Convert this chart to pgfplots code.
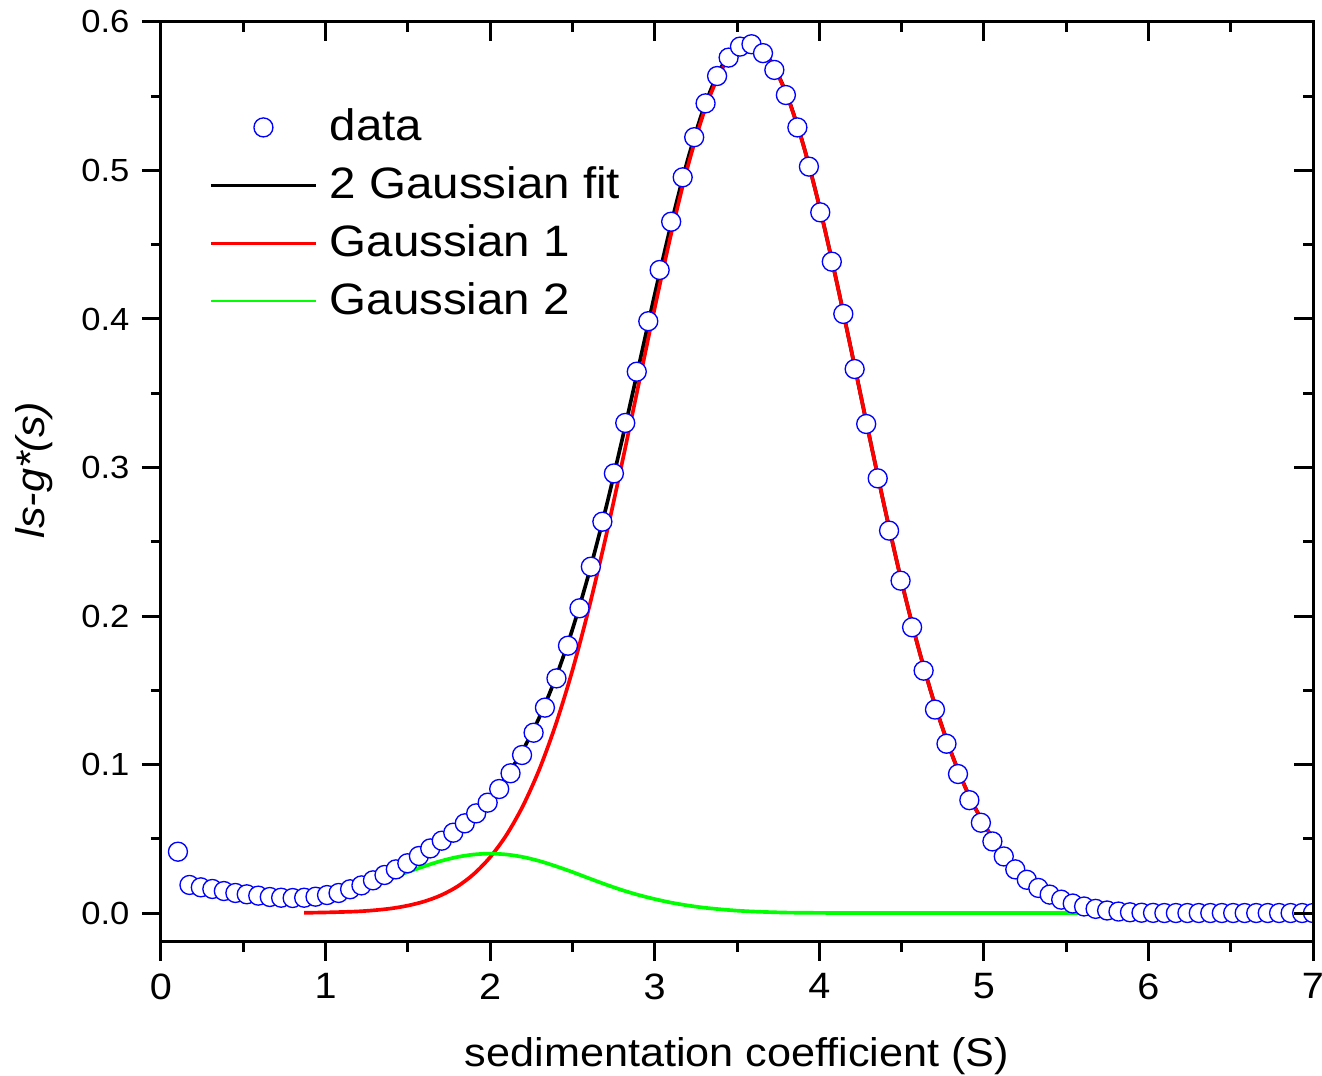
\documentclass[border=0pt]{standalone}
\usepackage{pgfplots}
\pgfplotsset{compat=1.18}
\usepackage{fontspec}
\setmainfont{Liberation Sans}[FakeStretch=1.08]

\begin{document}
\begin{tikzpicture}
\useasboundingbox (-48.3pt,-40.2pt) rectangle (348.3pt,282.6pt);
\begin{axis}[
  scale only axis, width=345.6pt, height=276pt,
  xmin=0, xmax=7, ymin=-0.0195, ymax=0.6,
  xtick={0,1,2,3,4,5,6,7},
  ytick={0,0.1,0.2,0.3,0.4,0.5,0.6},
  minor x tick num=1, minor y tick num=1,
  tick align=outside, xtick pos=left, ytick pos=left,
  major tick length=5.7pt, minor tick length=3pt,
  line width=0.9pt,
  tick style={black, line width=0.9pt},
  /pgf/number format/assume math mode=true,
  yticklabel style={/pgf/number format/fixed, /pgf/number format/fixed zerofill, /pgf/number format/precision=1, font=\fontsize{9.6}{11}\selectfont},
  xticklabel style={font=\fontsize{11}{13}\selectfont},
  xlabel={sedimentation coefficient (S)},
  ylabel={\itshape ls-g*(s)},
  xlabel style={at={(axis description cs:0.5,-0.1245)}, anchor=center, font=\fontsize{12}{14}\selectfont},
  ylabel style={at={(axis description cs:-0.1102,0.513)}, anchor=center, font=\fontsize{12}{14}\selectfont},
  clip marker paths=true,
  legend image code/.code={\draw[mark repeat=2,mark phase=2,#1] plot coordinates {(0pt,0pt) (15.75pt,0pt) (31.5pt,0pt)}; \path[draw=none,fill=none] (33.6pt,0pt);},
  legend style={draw=none, fill=none, at={(axis cs:0.225,0.5514)}, anchor=north west, font=\fontsize{13.2}{16}\selectfont, row sep=2.3pt},
  legend cell align=left,
]
\addlegendimage{only marks, mark=*, mark size=2.85pt, mark options={draw=blue, fill=white, line width=0.4pt}}
\addlegendentry{data}
\addlegendimage{black, line width=0.85pt}
\addlegendentry{2 Gaussian fit}
\addlegendimage{red, line width=0.85pt}
\addlegendentry{Gaussian 1}
\addlegendimage{green, line width=0.85pt}
\addlegendentry{Gaussian 2}

% 2 Gaussian fit
\addplot[black, line width=1.1pt, smooth, forget plot] coordinates {
(0.87,0.0062)(0.9,0.0068)(1.0,0.0094)(1.1,0.0127)(1.2,0.0166)(1.3,0.0212)(1.4,0.0265)(1.5,0.0325)
(1.6,0.0393)(1.7,0.0469)(1.8,0.0555)(1.9,0.0656)(2.0,0.0776)(2.1,0.0921)(2.2,0.1100)(2.3,0.1320)
(2.4,0.1589)(2.5,0.1910)(2.6,0.2286)(2.7,0.2711)(2.8,0.3178)(2.9,0.3668)(3.0,0.4165)(3.1,0.4640)
(3.2,0.5070)(3.3,0.5426)(3.4,0.5687)(3.5,0.5832)(3.6,0.5853)(3.7,0.5747)(3.8,0.5518)(3.9,0.5184)
(4.0,0.4762)(4.1,0.4279)(4.2,0.3760)(4.3,0.3232)(4.4,0.2716)(4.5,0.2232)(4.6,0.1795)(4.7,0.1411)
(4.8,0.1085)(4.9,0.0815)(5.0,0.0600)(5.1,0.0431)(5.2,0.0303)(5.3,0.0209)(5.4,0.0140)(5.5,0.0092)(5.58,0.0065)
};
% Gaussian 1
\addplot[red, line width=1.1pt, smooth, forget plot] coordinates {
(0.87,0.0002)(0.9,0.0002)(1.0,0.0004)(1.1,0.0007)(1.2,0.0011)(1.3,0.0019)(1.4,0.0031)(1.5,0.0050)
(1.6,0.0078)(1.7,0.0119)(1.8,0.0178)(1.9,0.0262)(2.0,0.0376)(2.1,0.0527)(2.2,0.0723)(2.3,0.0970)
(2.4,0.1274)(2.5,0.1634)(2.6,0.2052)(2.7,0.2518)(2.8,0.3023)(2.9,0.3548)(3.0,0.4074)(3.1,0.4574)
(3.2,0.5023)(3.3,0.5394)(3.4,0.5665)(3.5,0.5818)(3.6,0.5844)(3.7,0.5741)(3.8,0.5515)(3.9,0.5182)
(4.0,0.4761)(4.1,0.4278)(4.2,0.3760)(4.3,0.3232)(4.4,0.2716)(4.5,0.2232)(4.6,0.1795)(4.7,0.1411)
(4.8,0.1085)(4.9,0.0815)(5.0,0.0600)(5.1,0.0431)(5.2,0.0303)(5.3,0.0209)(5.4,0.0140)(5.5,0.0092)(5.58,0.0065)
};
% Gaussian 2
\addplot[green, line width=1.1pt, smooth, forget plot] coordinates {
(0.87,0.0060)(0.9,0.0066)(1.0,0.0091)(1.1,0.0120)(1.2,0.0155)(1.3,0.0193)(1.4,0.0234)(1.5,0.0276)
(1.6,0.0315)(1.7,0.0350)(1.8,0.0377)(1.9,0.0394)(2.0,0.0400)(2.1,0.0394)(2.2,0.0377)(2.3,0.0350)
(2.4,0.0315)(2.5,0.0276)(2.6,0.0234)(2.7,0.0193)(2.8,0.0155)(2.9,0.0122)(3.0,0.0094)(3.1,0.0070)
(3.2,0.0051)(3.3,0.0036)(3.4,0.0025)(3.5,0.0016)(3.6,0.0010)(3.7,0.0006)(3.8,0.0003)(3.9,0.0002)
(4.0,0.0001)(4.2,0.0000)(4.6,0.0000)(5.0,0.0000)(5.58,0.0000)
};
% data
\addplot[only marks, mark=*, mark size=2.85pt, mark options={draw=blue, fill=white, line width=0.4pt}, forget plot] coordinates {
(0.103,0.0413)(0.173,0.0189)(0.242,0.0173)(0.312,0.0162)(0.382,0.0148)(0.452,0.0135)(0.521,0.0126)(0.591,0.0117)
(0.661,0.0108)(0.730,0.0103)(0.800,0.0101)(0.870,0.0103)(0.939,0.0110)(1.009,0.0121)(1.079,0.0135)(1.149,0.0160)
(1.218,0.0186)(1.288,0.0220)(1.358,0.0256)(1.427,0.0294)(1.497,0.0335)(1.567,0.0384)(1.636,0.0435)(1.706,0.0487)
(1.776,0.0541)(1.846,0.0604)(1.915,0.0671)(1.985,0.0743)(2.055,0.0835)(2.124,0.0941)(2.194,0.1064)(2.264,0.1214)
(2.333,0.1383)(2.403,0.1580)(2.473,0.1800)(2.543,0.2052)(2.612,0.2332)(2.682,0.2635)(2.752,0.2960)(2.821,0.3300)
(2.891,0.3645)(2.961,0.3985)(3.030,0.4330)(3.100,0.4655)(3.170,0.4954)(3.240,0.5224)(3.309,0.5452)(3.379,0.5636)
(3.449,0.5760)(3.518,0.5834)(3.588,0.5850)(3.658,0.5790)(3.727,0.5677)(3.797,0.5508)(3.867,0.5290)(3.937,0.5026)
(4.006,0.4718)(4.076,0.4386)(4.146,0.4034)(4.215,0.3663)(4.285,0.3293)(4.355,0.2927)(4.424,0.2575)(4.494,0.2238)
(4.564,0.1924)(4.634,0.1632)(4.703,0.1370)(4.773,0.1140)(4.843,0.0936)(4.912,0.0760)(4.982,0.0608)(5.052,0.0482)
(5.121,0.0381)(5.191,0.0294)(5.261,0.0224)(5.331,0.0169)(5.400,0.0124)(5.470,0.0090)(5.540,0.0064)(5.609,0.0044)
(5.679,0.0028)(5.749,0.0017)(5.818,0.0010)(5.888,0.0005)(5.958,0.0002)(6.028,0.0001)(6.097,0.0000)(6.167,0.0000)
(6.237,0.0000)(6.306,0.0000)(6.376,0.0000)(6.446,0.0000)(6.515,0.0000)(6.585,0.0000)(6.655,0.0000)(6.725,0.0000)
(6.794,0.0000)(6.864,0.0000)(6.934,0.0000)(7.000,0.0000)
};
\end{axis}
\begin{axis}[
  scale only axis, width=345.6pt, height=276pt,
  xmin=0, xmax=7, ymin=-0.0195, ymax=0.6,
  xtick={0,1,2,3,4,5,6,7},
  ytick={0,0.1,0.2,0.3,0.4,0.5,0.6},
  minor x tick num=1, minor y tick num=1,
  tick align=inside, xtick pos=right, ytick pos=right,
  major tick length=5.7pt, minor tick length=3pt,
  line width=0.9pt,
  tick style={black, line width=0.9pt},
  xticklabels={}, yticklabels={},
]
\end{axis}
\end{tikzpicture}
\end{document}
